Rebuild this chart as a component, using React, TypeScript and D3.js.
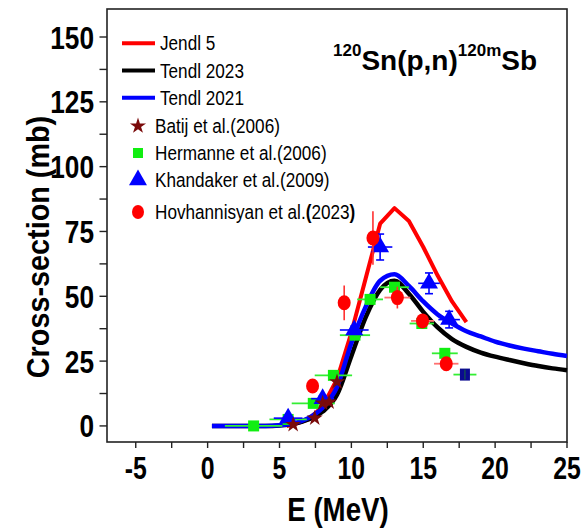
import React from "react";
import * as d3 from "d3";

// ---- Data ----
const jendlE = [5.5, 6, 7, 8, 9, 10, 11, 12, 13, 14, 15, 16, 17, 18];
const jendlV = [0, 0.5, 2.5, 7.5, 18, 36, 57, 78, 84, 79, 69, 58, 48, 40];

const tendl23E = [0.3, 1, 2, 3, 4, 5, 6, 7, 8, 9, 10, 11, 12, 13, 14, 15, 16, 17, 18, 19, 20, 21, 22, 23, 24, 25];
const tendl23V = [0, 0, 0, 0, 0, 0.2, 0.8, 2.5, 5.5, 12, 27, 42, 52.5, 56, 51, 44, 38, 33.5, 30.5, 28.3, 26.7, 25.4, 24.2, 23.1, 22.2, 21.5];

const tendl21E = [0.3, 1, 2, 3, 4, 5, 6, 7, 8, 9, 10, 11, 12, 13, 14, 15, 16, 17, 18, 19, 20, 21, 22, 23, 24, 25];
const tendl21V = [0, 0, 0, 0, 0, 0.3, 1, 3, 7, 15, 32, 46, 56, 58.5, 54, 48, 43, 39.5, 36.5, 34.5, 32.5, 31, 29.8, 28.8, 27.8, 27];

const batijE = [5.95, 7.45, 8.0, 8.45, 9.0];
const batijV = [0.5, 3, 8.8, 9.2, 17];

const hermE = [3.2, 5.6, 7.35, 8.75, 10.25, 11.3, 13.0, 14.9, 16.5];
const hermV = [0, 2.5, 8.7, 19.5, 35, 48.8, 53.5, 39.5, 28];
const hermDE = [2.0, 1.3, 1.5, 1.3, 1.05, 0.9, 1.0, 0.85, 0.9];

const extraE = [17.9];
const extraV = [19.8];
const extraDE = [0.8];

const khanE = [5.6, 8.0, 10.2, 12.0, 15.4, 16.8];
const khanV = [3, 10.5, 37, 69, 55, 41];
const khanDE = [1.0, 0.8, 1.0, 0.85, 0.75, 0.75];
const khanDV = [0, 1, 1.5, 5, 4, 3.2];

const hovE = [7.3, 9.5, 11.5, 13.2, 14.95, 16.6];
const hovV = [15.4, 47.5, 72.5, 49.5, 40.5, 24];
const hovDE = [0, 0, 0, 0.9, 0.8, 0.85];
const hovDV = [0, 6.7, 10.3, 4.2, 0, 0];

const xTicks = [-5, 0, 5, 10, 15, 20, 25];
const yTicks = [0, 25, 50, 75, 100, 125, 150];

const legendLines = ["Jendl 5", "Tendl 2023", "Tendl 2021"];

function T(props: { x: number; y: number; s?: number; size: number; bold?: boolean; anchor?: string; rotate?: number; children: any }) {
  const { x, y, s = 1, size, bold, anchor = "start", rotate = 0, children } = props;
  return (
    <g transform={`translate(${x},${y}) rotate(${rotate}) scale(${s},1)`}>
      <text x={0} y={0} fontSize={size} fontWeight={bold ? "bold" : "normal"} textAnchor={anchor}>{children}</text>
    </g>
  );
}

export default function App() {
  const W = 583, H = 529;
  const x = d3.scaleLinear().domain([-7, 25]).range([107, 567]);
  const y = d3.scaleLinear().domain([-6.2, 160.8]).range([442, 9]);
  const smooth = d3.line<[number, number]>().x(d => x(d[0])).y(d => y(d[1])).curve(d3.curveMonotoneX);
  const straight = d3.line<[number, number]>().x(d => x(d[0])).y(d => y(d[1]));
  const pts = (E: number[], V: number[]) => E.map((e, i) => [e, V[i]] as [number, number]);

  const starPath = d3.symbol().type(d3.symbolStar).size(80)() as string;
  const triPath = d3.symbol().type(d3.symbolTriangle).size(140)() as string;
  const legStar = d3.symbol().type(d3.symbolStar).size(80)() as string;

  const minorX = d3.range(-5, 25.01, 2.5);
  const minorY = d3.range(0, 150.01, 12.5);
  const font = "'Liberation Sans', Arial, sans-serif";

  return (
    <svg width={W} height={H} style={{ position: "absolute", left: 0, top: 0, background: "#fff" }} fontFamily={font}>
      {/* frame */}
      <rect x={107} y={9} width={567 - 107} height={442 - 9} fill="none" stroke="#222" strokeWidth={1.6} />
      {/* x ticks */}
      {minorX.map(t => (
        <line key={"xt" + t} x1={x(t)} x2={x(t)} y1={442} y2={448} stroke="#222" strokeWidth={1.4} />
      ))}
      {xTicks.map(t => (
        <T key={"xl" + t} x={x(t)} y={479} s={0.8} size={31} bold anchor="middle">{t}</T>
      ))}
      {/* y ticks */}
      {minorY.map(t => (
        <line key={"yt" + t} x1={99.5} x2={107} y1={y(t)} y2={y(t)} stroke="#222" strokeWidth={1.4} />
      ))}
      {yTicks.map(t => (
        <T key={"yl" + t} x={94} y={y(t) + 11.5} s={0.82} size={32} bold anchor="end">{t}</T>
      ))}
      {/* axis titles */}
      <T x={338} y={521} s={0.84} size={33} bold anchor="middle">E (MeV)</T>
      <T x={49} y={247} s={0.9} size={32} bold anchor="middle" rotate={-90}>Cross-section (mb)</T>

      {/* reaction title */}
      <text x={333} y={70} fontWeight="bold" fontSize={28}>
        <tspan fontSize={17} dy={-14}>120</tspan>
        <tspan dy={14}>Sn(p,n)</tspan>
        <tspan fontSize={17} dy={-14}>120m</tspan>
        <tspan dy={14}>Sb</tspan>
      </text>

      {/* curves */}
      <path d={straight(pts(jendlE, jendlV)) as string} fill="none" stroke="#ff0000" strokeWidth={4} strokeLinejoin="round" />
      <path d={smooth(pts(tendl23E, tendl23V)) as string} fill="none" stroke="#000" strokeWidth={4.5} />
      <path d={smooth(pts(tendl21E, tendl21V)) as string} fill="none" stroke="#0000ff" strokeWidth={4.5} />

      {/* Hermanne */}
      {hermE.map((e, i) => (
        <g key={"h" + i}>
          <line x1={x(e - hermDE[i])} x2={x(e + hermDE[i])} y1={y(hermV[i])} y2={y(hermV[i])} stroke="#33ee33" strokeWidth={1.8} />
          <rect x={x(e) - 5.5} y={y(hermV[i]) - 5.5} width={11} height={11} fill="#11ee11" />
        </g>
      ))}
      {extraE.map((e, i) => (
        <g key={"ex" + i}>
          <line x1={x(e - extraDE[i])} x2={x(e + extraDE[i])} y1={y(extraV[i])} y2={y(extraV[i])} stroke="#33ee33" strokeWidth={1.8} />
          <rect x={x(e) - 5} y={y(extraV[i]) - 6} width={10} height={12} fill="#0a0a90" />
          <line x1={x(e)} x2={x(e)} y1={y(extraV[i]) - 5} y2={y(extraV[i]) + 5} stroke="#1a6a3a" strokeWidth={1} />
        </g>
      ))}
      {/* Khandaker */}
      {khanE.map((e, i) => (
        <g key={"k" + i} stroke="#0000ff" strokeWidth={1.6}>
          {khanDE[i] > 0 && <line x1={x(e - khanDE[i])} x2={x(e + khanDE[i])} y1={y(khanV[i])} y2={y(khanV[i])} />}
          {khanDV[i] > 0 && (
            <g>
              <line x1={x(e)} x2={x(e)} y1={y(khanV[i] - khanDV[i])} y2={y(khanV[i] + khanDV[i])} />
              <line x1={x(e) - 4} x2={x(e) + 4} y1={y(khanV[i] - khanDV[i])} y2={y(khanV[i] - khanDV[i])} />
              <line x1={x(e) - 4} x2={x(e) + 4} y1={y(khanV[i] + khanDV[i])} y2={y(khanV[i] + khanDV[i])} />
            </g>
          )}
          <path d={triPath} transform={`translate(${x(e)},${y(khanV[i])})`} fill="#0000ff" stroke="none" />
        </g>
      ))}
      {/* Hovhannisyan */}
      {hovE.map((e, i) => (
        <g key={"o" + i}>
          {hovDE[i] > 0 && <line x1={x(e - hovDE[i])} x2={x(e + hovDE[i])} y1={y(hovV[i])} y2={y(hovV[i])} stroke="#ff7070" strokeWidth={1.8} />}
          {hovDV[i] > 0 && <line x1={x(e)} x2={x(e)} y1={y(hovV[i] - hovDV[i])} y2={y(hovV[i] + hovDV[i])} stroke="#ff3030" strokeWidth={1.6} />}
          <ellipse cx={x(e)} cy={y(hovV[i])} rx={6.5} ry={7.5} fill="#ff0000" />
        </g>
      ))}
      {/* Batij */}
      {batijE.map((e, i) => (
        <path key={"b" + i} d={starPath} transform={`translate(${x(e)},${y(batijV[i])})`} fill="#7a0a0a" />
      ))}

      {/* legend */}
      {legendLines.map((name, i) => {
        const ly = 43.3 + i * 27.2;
        const col = ["#ff0000", "#000", "#0000ff"][i];
        return (
          <g key={name}>
            <line x1={122} x2={155} y1={ly} y2={ly} stroke={col} strokeWidth={4} />
            <T x={160} y={ly + 7} s={0.88} size={19.5}>{name}</T>
          </g>
        );
      })}
      <path d={legStar} transform="translate(138,126)" fill="#7a0a0a" />
      <T x={155} y={133} s={0.88} size={19.5}>Batij et al.(2006)</T>
      <rect x={133} y={148} width={10} height={10} fill="#11ee11" />
      <T x={155} y={160} s={0.88} size={19.5}>Hermanne et al.(2006)</T>
      <path d={triPath} transform="translate(138,180)" fill="#0000ff" />
      <T x={155} y={186.5} s={0.88} size={19.5}>Khandaker et al.(2009)</T>
      <ellipse cx={138} cy={212} rx={6} ry={7} fill="#ff0000" />
      <T x={155} y={219} s={0.88} size={19.5}>
        Hovhannisyan et al.<tspan fontWeight="bold">(</tspan>2023<tspan fontWeight="bold">)</tspan>
      </T>
    </svg>
  );
}
